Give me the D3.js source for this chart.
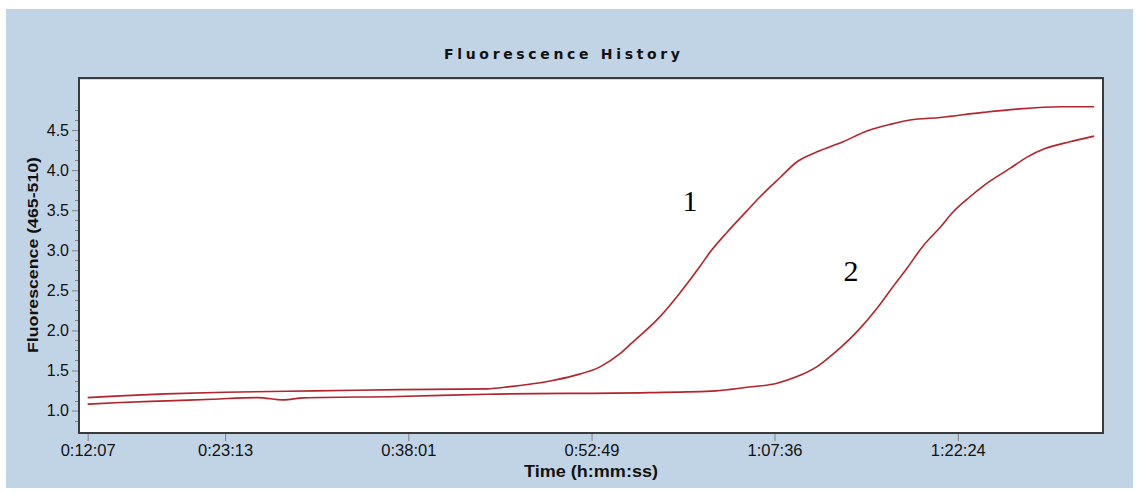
<!DOCTYPE html>
<html>
<head>
<meta charset="utf-8">
<script src="https://cdn.jsdelivr.net/npm/d3@7"></script>
<style>
  html, body { margin: 0; padding: 0; background: #ffffff; }
  svg { display: block; }
</style>
</head>
<body>
<svg id="chart" width="1137" height="492"></svg>
<script>
// Time axis ticks (seconds since run start) and their labels
const tickSeconds = [727, 1393, 2281, 3169, 4056, 4944];
const tickLabels = ["0:12:07", "0:23:13", "0:38:01", "0:52:49", "1:07:36", "1:22:24"];

// Y axis labelled ticks
const yTicks = [1.0, 1.5, 2.0, 2.5, 3.0, 3.5, 4.0, 4.5];

// Sample 1: acquisition time (s) and fluorescence
const time1 = [727, 884, 1102, 1392, 1829, 2241, 2662, 2774, 2968, 3079, 3210, 3307, 3365, 3501, 3583, 3695,
               3743, 3826, 3923, 3986, 4083, 4165, 4262, 4388, 4504, 4616, 4713, 4858, 5067, 5231, 5440, 5605];
const fluor1 = [1.162, 1.183, 1.208, 1.229, 1.246, 1.261, 1.271, 1.299, 1.370, 1.433, 1.545, 1.710, 1.845, 2.172, 2.421, 2.800,
                2.975, 3.225, 3.495, 3.668, 3.908, 4.105, 4.229, 4.354, 4.488, 4.571, 4.625, 4.658, 4.721, 4.762, 4.791, 4.791];

// Sample 2: acquisition time (s) and fluorescence
const time2 = [727, 884, 1111, 1334, 1552, 1674, 1771, 2226, 2662, 3443, 3772, 3913, 4068, 4165, 4262, 4325,
               4373, 4456, 4553, 4630, 4698, 4776, 4858, 4921, 5003, 5067, 5197, 5280, 5367, 5488, 5605];
const fluor2 = [1.080, 1.100, 1.121, 1.142, 1.162, 1.133, 1.158, 1.175, 1.204, 1.224, 1.246, 1.287, 1.342, 1.424, 1.549, 1.673,
                1.778, 1.985, 2.277, 2.546, 2.776, 3.054, 3.284, 3.478, 3.668, 3.802, 4.022, 4.163, 4.269, 4.354, 4.425];

const seriesNames = ["1", "2"];

const svg = d3.select("#chart");
const plot = { left: 79, top: 78, right: 1103, bottom: 433 };

// Panel background
svg.append("rect")
  .attr("x", 6).attr("y", 9).attr("width", 1127).attr("height", 479)
  .attr("fill", "#c1d4e5");

const x = d3.scaleLinear().domain([685, 5648]).range([plot.left, plot.right]);
const y = d3.scaleLinear().domain([0.72, 5.15]).range([plot.bottom, plot.top]);

// Plot area
svg.append("rect")
  .attr("x", plot.left).attr("y", plot.top)
  .attr("width", plot.right - plot.left).attr("height", plot.bottom - plot.top)
  .attr("fill", "#ffffff");

// Curves
const line = d3.line()
  .x(d => x(d[0]))
  .y(d => y(d[1]))
  .curve(d3.curveMonotoneX);

const series = [
  d3.zip(time1, fluor1),
  d3.zip(time2, fluor2)
];

svg.append("g")
  .selectAll("path")
  .data(series)
  .join("path")
  .attr("d", line)
  .attr("fill", "none")
  .attr("stroke", "#b3242c")
  .attr("stroke-width", 1.6);

// Frame
svg.append("rect")
  .attr("x", plot.left).attr("y", plot.top)
  .attr("width", plot.right - plot.left).attr("height", plot.bottom - plot.top)
  .attr("fill", "none")
  .attr("stroke", "#3a3a3a")
  .attr("stroke-width", 2);
svg.append("line")
  .attr("x1", plot.left + 1).attr("x2", plot.right - 1)
  .attr("y1", plot.top + 1.5).attr("y2", plot.top + 1.5)
  .attr("stroke", "#d8d8d8").attr("stroke-width", 1);

// Y axis
const minorY = d3.range(0.875, 4.76, 0.125).filter(v => Math.abs(v * 2 - Math.round(v * 2)) > 1e-6);
const yAxis = d3.axisLeft(y)
  .tickValues(yTicks)
  .tickFormat(d3.format(".1f"))
  .tickSize(6)
  .tickPadding(3);
const gy = svg.append("g")
  .attr("transform", `translate(${plot.left - 1},0)`)
  .call(yAxis);
gy.select(".domain").remove();
gy.selectAll(".tick line").attr("stroke", "#808080");
gy.selectAll(".tick text")
  .attr("font-family", "Liberation Sans, Arial, sans-serif")
  .attr("font-size", 16)
  .attr("fill", "#111");
svg.append("g")
  .selectAll("line")
  .data(minorY)
  .join("line")
  .attr("x1", plot.left - 4).attr("x2", plot.left - 1)
  .attr("y1", d => Math.round(y(d)) + 0.5).attr("y2", d => Math.round(y(d)) + 0.5)
  .attr("stroke", "#808080");

// X axis
const xAxis = d3.axisBottom(x)
  .tickValues(tickSeconds)
  .tickFormat((d, i) => tickLabels[i])
  .tickSize(7)
  .tickPadding(3);
const gx = svg.append("g")
  .attr("transform", `translate(0,${plot.bottom + 1})`)
  .call(xAxis);
gx.select(".domain").remove();
gx.selectAll(".tick line").attr("stroke", "#808080");
gx.selectAll(".tick text")
  .attr("font-family", "Liberation Sans, Arial, sans-serif")
  .attr("font-size", 16.5)
  .attr("fill", "#111");

// Title and axis titles
svg.append("text")
  .attr("x", 562).attr("y", 59)
  .attr("text-anchor", "middle")
  .attr("font-family", "DejaVu Sans, Verdana, sans-serif")
  .attr("font-weight", "bold")
  .attr("font-size", 14)
  .attr("textLength", 236)
  .attr("lengthAdjust", "spacing")
  .attr("fill", "#111")
  .text("Fluorescence History");

svg.append("text")
  .attr("x", 591).attr("y", 477)
  .attr("text-anchor", "middle")
  .attr("font-family", "Liberation Sans, Arial, sans-serif")
  .attr("font-weight", "bold")
  .attr("font-size", 16)
  .attr("textLength", 134)
  .attr("lengthAdjust", "spacingAndGlyphs")
  .attr("fill", "#111")
  .text("Time (h:mm:ss)");

svg.append("text")
  .attr("transform", "translate(38,255) rotate(-90)")
  .attr("text-anchor", "middle")
  .attr("font-family", "Liberation Sans, Arial, sans-serif")
  .attr("font-weight", "bold")
  .attr("font-size", 15)
  .attr("textLength", 196)
  .attr("lengthAdjust", "spacingAndGlyphs")
  .attr("fill", "#111")
  .text("Fluorescence (465-510)");

// Curve annotations
const annotations = [
  { name: seriesNames[0], t: 3646, v: 3.49 },
  { name: seriesNames[1], t: 4427, v: 2.617 }
];
svg.append("g")
  .selectAll("text")
  .data(annotations)
  .join("text")
  .attr("x", d => x(d.t))
  .attr("y", d => y(d.v))
  .attr("text-anchor", "middle")
  .attr("font-family", "Liberation Serif, Times New Roman, serif")
  .attr("font-size", 30)
  .attr("fill", "#000")
  .text(d => d.name);
</script>
</body>
</html>
